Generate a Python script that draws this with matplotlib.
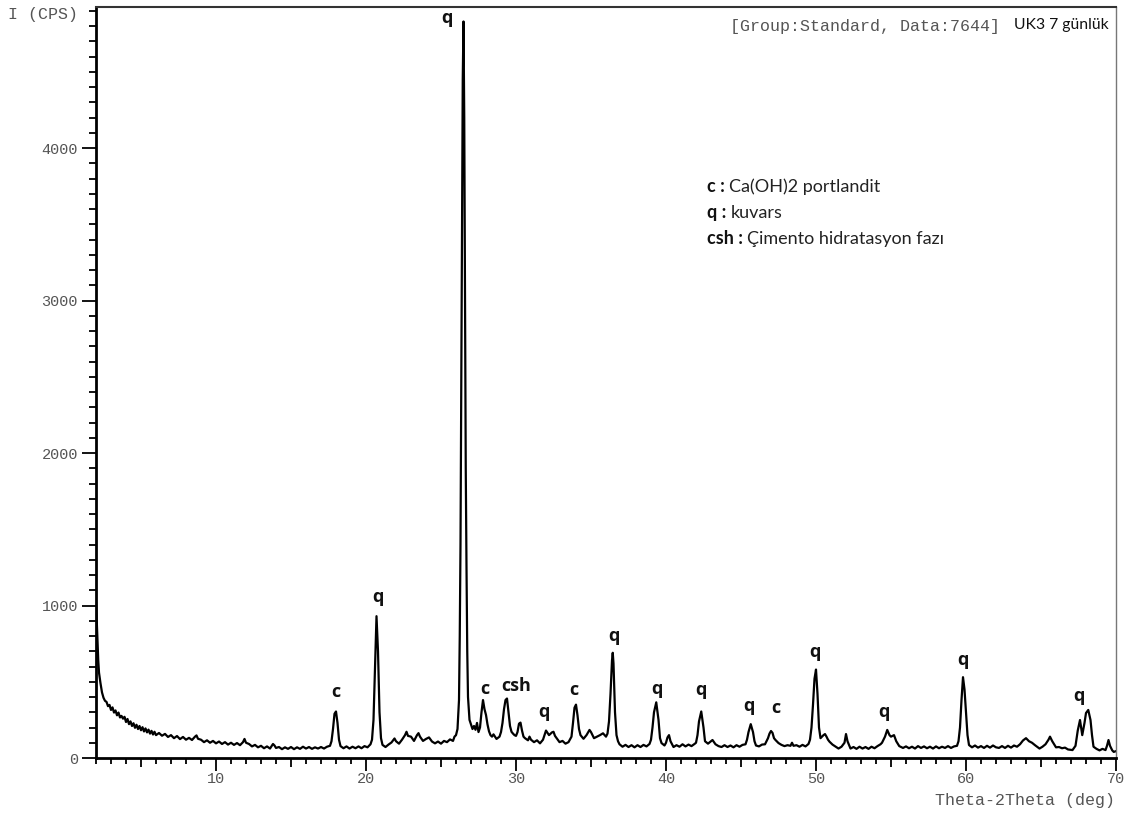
import matplotlib
matplotlib.use("Agg")
import matplotlib.pyplot as plt
from matplotlib.ticker import MultipleLocator, FixedLocator

# XRD pattern (2theta in deg, intensity in CPS)
two_theta = [
    2.0, 2.05, 2.1, 2.15, 2.2, 2.3, 2.4, 2.5, 2.6, 2.7, 2.8, 2.9, 3.0, 3.1, 3.2, 3.3, 3.4, 3.5,
    3.6, 3.7, 3.8, 3.9, 4.0, 4.1, 4.2, 4.3, 4.4, 4.5, 4.6, 4.7, 4.8, 4.9, 5.0, 5.1, 5.2, 5.3,
    5.4, 5.5, 5.6, 5.7, 5.8, 5.9, 6.0, 6.2, 6.4, 6.6, 6.8, 7.0, 7.2, 7.4, 7.6, 7.8, 8.0, 8.2,
    8.4, 8.6, 8.7, 8.8, 9.0, 9.2, 9.4, 9.6, 9.8, 10.0, 10.2, 10.4, 10.6, 10.8, 11.0, 11.2, 11.4,
    11.6, 11.8, 11.9, 12.0, 12.2, 12.4, 12.6, 12.8, 13.0, 13.2, 13.4, 13.6, 13.8, 13.9, 14.0,
    14.2, 14.4, 14.6, 14.8, 15.0, 15.2, 15.4, 15.6, 15.8, 16.0, 16.2, 16.4, 16.6, 16.8, 17.0,
    17.2, 17.4, 17.6, 17.7, 17.8, 17.9, 18.0, 18.1, 18.2, 18.3, 18.5, 18.7, 18.9, 19.1, 19.3,
    19.5, 19.7, 19.9, 20.1, 20.3, 20.4, 20.5, 20.6, 20.7, 20.8, 20.9, 21.0, 21.1, 21.3, 21.5,
    21.7, 21.9, 22.0, 22.2, 22.4, 22.6, 22.7, 22.8, 23.0, 23.2, 23.4, 23.5, 23.6, 23.8, 24.0,
    24.2, 24.4, 24.6, 24.8, 25.0, 25.2, 25.4, 25.6, 25.8, 25.9, 26.0, 26.1, 26.2, 26.25, 26.3,
    26.35, 26.4, 26.45, 26.5, 26.55, 26.6, 26.65, 26.7, 26.75, 26.8, 26.9, 27.0, 27.1, 27.2,
    27.3, 27.4, 27.5, 27.6, 27.7, 27.8, 27.9, 28.0, 28.1, 28.2, 28.3, 28.4, 28.5, 28.7, 28.9,
    29.0, 29.1, 29.2, 29.3, 29.4, 29.5, 29.6, 29.7, 29.8, 29.9, 30.0, 30.1, 30.2, 30.3, 30.4,
    30.5, 30.6, 30.8, 30.9, 31.0, 31.2, 31.4, 31.6, 31.8, 31.9, 32.0, 32.1, 32.2, 32.4, 32.5,
    32.6, 32.8, 32.9, 33.1, 33.3, 33.5, 33.7, 33.8, 33.9, 34.0, 34.1, 34.2, 34.3, 34.5, 34.7,
    34.9, 35.0, 35.2, 35.4, 35.6, 35.8, 36.0, 36.1, 36.2, 36.3, 36.4, 36.45, 36.5, 36.6, 36.7,
    36.8, 36.9, 37.1, 37.3, 37.5, 37.7, 37.9, 38.1, 38.3, 38.5, 38.7, 38.9, 39.0, 39.1, 39.2,
    39.35, 39.5, 39.6, 39.7, 39.9, 40.0, 40.1, 40.2, 40.3, 40.5, 40.7, 40.9, 41.1, 41.3, 41.5,
    41.7, 41.9, 42.0, 42.1, 42.2, 42.35, 42.5, 42.6, 42.8, 43.0, 43.1, 43.3, 43.5, 43.7, 43.9,
    44.1, 44.3, 44.5, 44.7, 44.9, 45.1, 45.3, 45.4, 45.5, 45.65, 45.8, 45.9, 46.0, 46.2, 46.4,
    46.6, 46.8, 46.9, 47.0, 47.1, 47.2, 47.3, 47.5, 47.7, 47.9, 48.1, 48.3, 48.4, 48.5, 48.7,
    48.9, 49.1, 49.3, 49.5, 49.6, 49.7, 49.8, 49.9, 50.0, 50.1, 50.2, 50.3, 50.4, 50.5, 50.6,
    50.7, 50.8, 50.9, 51.1, 51.3, 51.5, 51.7, 51.9, 52.0, 52.1, 52.3, 52.5, 52.7, 52.9, 53.1,
    53.3, 53.5, 53.7, 53.9, 54.1, 54.3, 54.4, 54.6, 54.75, 54.9, 55.0, 55.2, 55.35, 55.55, 55.8,
    56.0, 56.2, 56.4, 56.6, 56.8, 57.0, 57.2, 57.4, 57.6, 57.8, 58.0, 58.2, 58.4, 58.6, 58.8,
    59.0, 59.2, 59.4, 59.5, 59.6, 59.7, 59.8, 59.9, 60.0, 60.1, 60.2, 60.4, 60.6, 60.8, 61.0,
    61.2, 61.4, 61.6, 61.8, 62.0, 62.2, 62.4, 62.6, 62.8, 63.0, 63.2, 63.4, 63.6, 63.8, 64.0,
    64.2, 64.4, 64.6, 64.9, 65.1, 65.3, 65.5, 65.6, 65.75, 66.0, 66.2, 66.4, 66.6, 66.8, 67.1,
    67.3, 67.45, 67.6, 67.75, 67.9, 68.0, 68.15, 68.3, 68.4, 68.5, 68.7, 68.9, 69.1, 69.3, 69.4,
    69.5, 69.6, 69.75, 69.85, 70.0,
]
intensity = [
    1020, 900, 760, 640, 560, 490, 430, 395, 375, 368, 340, 348, 315, 332, 298, 312, 280, 298,
    266, 276, 258, 270, 236, 256, 222, 240, 210, 228, 198, 218, 190, 210, 182, 202, 174, 194,
    168, 186, 160, 178, 154, 172, 150, 164, 146, 158, 138, 150, 130, 144, 124, 138, 120, 132,
    118, 140, 148, 126, 120, 104, 116, 100, 112, 96, 108, 92, 104, 88, 100, 86, 98,
    84, 104, 125, 100, 92, 76, 86, 70, 80, 64, 76, 62, 92, 82, 66,
    72, 58, 70, 60, 72, 58, 70, 60, 74, 62, 72, 60, 70, 62, 72,
    62, 74, 80, 110, 190, 290, 305, 230, 120, 78, 64, 76, 62, 74, 64,
    76, 64, 78, 70, 90, 120, 250, 600, 930, 700, 300, 130, 86, 72, 88,
    102, 128, 110, 94, 120, 150, 172, 145, 140, 112, 150, 163, 140, 112, 125,
    135, 108, 96, 108, 94, 112, 104, 122, 112, 140, 150, 190, 380, 800, 1400,
    2400, 3500, 4450, 4830, 4200, 3000, 1900, 1250, 700, 400, 250, 220, 190, 210,
    185, 230, 170, 200, 300, 380, 320, 282, 220, 175, 150, 140, 155, 125, 140,
    170, 230, 320, 380, 390, 300, 210, 172, 160, 150, 145, 170, 225, 232, 180,
    140, 130, 116, 140, 120, 104, 116, 96, 120, 150, 180, 165, 150, 168, 172,
    145, 118, 104, 112, 94, 104, 140, 230, 330, 350, 280, 190, 150, 126, 150,
    184, 170, 130, 140, 150, 162, 140, 160, 240, 420, 640, 690, 620, 300, 150,
    110, 90, 74, 86, 72, 84, 70, 84, 72, 86, 76, 92, 120, 200, 300,
    365, 250, 130, 98, 82, 100, 135, 150, 110, 72, 84, 74, 90, 76, 88,
    78, 92, 100, 150, 240, 305, 200, 110, 94, 110, 118, 90, 78, 72, 84,
    72, 82, 70, 84, 74, 86, 90, 120, 170, 222, 170, 110, 82, 76, 88,
    90, 130, 160, 177, 165, 130, 118, 98, 86, 78, 84, 80, 100, 80, 84,
    74, 86, 76, 92, 120, 200, 350, 520, 580, 420, 200, 130, 140, 150, 157,
    140, 120, 107, 88, 75, 62, 74, 100, 157, 110, 62, 72, 60, 74, 62,
    72, 60, 74, 64, 78, 90, 100, 140, 184, 150, 140, 150, 110, 78, 66,
    76, 64, 74, 62, 78, 66, 76, 64, 74, 62, 76, 64, 74, 66, 78,
    66, 76, 80, 110, 200, 380, 530, 450, 295, 150, 85, 70, 82, 68, 78,
    66, 80, 68, 82, 70, 66, 78, 66, 80, 68, 82, 74, 90, 115, 130,
    110, 100, 84, 62, 74, 90, 120, 140, 110, 70, 72, 64, 68, 56, 52,
    80, 180, 249, 150, 230, 295, 315, 249, 150, 74, 60, 50, 60, 52, 80,
    118, 80, 50, 40, 45,
]

# peak labels
peak_labels = ["q", "c", "q", "c", "csh", "q", "c", "q", "q", "q", "q", "c", "q", "q", "q", "q"]
label_x = [25.4, 18.0, 20.8, 27.95, 30.0, 31.85, 33.85, 36.5, 39.4, 42.3, 45.5, 47.3, 49.95, 54.5, 59.8, 67.5]
label_y = [4850, 430, 1055, 455, 470, 300, 445, 800, 455, 445, 340, 325, 695, 300, 640, 405]

legend_keys = ["c :", "q :", "csh :"]
legend_texts = ["Ca(OH)2 portlandit", "kuvars", "Çimento hidratasyon fazı"]

W, H = 1134, 817
fig = plt.figure(figsize=(W / 100, H / 100), dpi=100)
ax = fig.add_axes([96 / W, 1 - 758 / H, (1116 - 96) / W, (758 - 7) / H])

ax.plot(two_theta, intensity, color="black", lw=1.6)
ax.set_xlim(2, 70)
ax.set_ylim(0, 4925)

mono = "Liberation Mono"
major_x = [5, 10, 15, 20, 25, 30, 35, 40, 45, 50, 55, 60, 65, 70]
ax.xaxis.set_major_locator(FixedLocator(major_x))
ax.xaxis.set_minor_locator(MultipleLocator(1))
ax.set_xticklabels(["" if t % 10 else str(t) for t in major_x])
ax.yaxis.set_major_locator(MultipleLocator(1000))
ax.yaxis.set_minor_locator(MultipleLocator(100))
ax.tick_params(axis="both", which="both", direction="out", width=1.3, color="black",
               labelcolor="#555555", labelsize=11)
ax.tick_params(axis="x", which="major", length=9, pad=1)
ax.tick_params(axis="x", which="minor", length=4)
ax.tick_params(axis="y", which="major", length=10, pad=3)
ax.tick_params(axis="y", which="minor", length=5)
for t in ax.xaxis.get_major_ticks():
    if t.get_loc() % 10:
        t.tick1line.set_markersize(6.5)
for lab in ax.get_xticklabels() + ax.get_yticklabels():
    lab.set_family(mono)

for s in ["left", "bottom"]:
    ax.spines[s].set_linewidth(2)
    ax.spines[s].set_color("black")
ax.spines["top"].set_linewidth(1.5)
ax.spines["top"].set_color("#333333")
ax.spines["right"].set_linewidth(1)
ax.spines["right"].set_color("#777777")

for lab, x, y in zip(peak_labels, label_x, label_y):
    ax.text(x, y, lab, ha="center", va="center", fontsize=13, fontweight="bold",
            family="Open Sans", color="#111111")

# legend block
for i, (k, t) in enumerate(zip(legend_keys, legend_texts)):
    yy = 1 - (192 + 26 * i) / H
    kt = fig.text(707 / W, yy, k, ha="left", va="baseline", fontsize=13, fontweight="bold",
                  family="Lato", color="#111111")
    ax.annotate(t, xy=(1, 0), xycoords=kt, xytext=(3, 0), textcoords="offset points",
                ha="left", va="bottom", fontsize=13, family="Lato", color="#222222")

fig.text(1000 / W, 1 - 26 / H, "[Group:Standard, Data:7644]", ha="right", va="center",
         fontsize=12, family=mono, color="#555555")
fig.text(1014 / W, 1 - 25 / H, "UK3 7 günlük", ha="left", va="center", fontsize=11.3,
         family="Lato", color="#111111")
fig.text(8 / W, 1 - 14 / H, "I (CPS)", ha="left", va="center", fontsize=12,
         family=mono, color="#555555")
fig.text(1115 / W, 1 - 800 / H, "Theta-2Theta (deg)", ha="right", va="center",
         fontsize=12, family=mono, color="#555555")

fig.savefig("out.png", dpi=100)
